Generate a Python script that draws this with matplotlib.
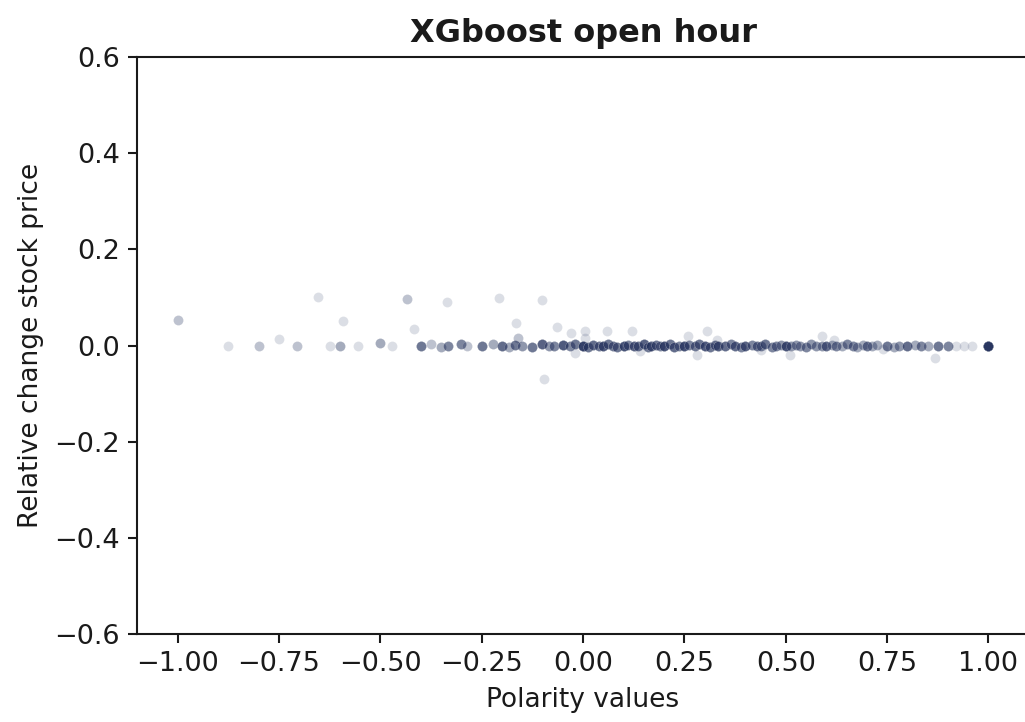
import numpy as np
import matplotlib
matplotlib.use("Agg")
import matplotlib.pyplot as plt
from matplotlib.ticker import FuncFormatter

# Sparse observations (polarity, relative change)
sparse_x = [-1.0, -1.0, -0.875, -0.80, -0.80, -0.75, -0.706, -0.706, -0.654, -0.593,
            -0.625, -0.60, -0.60, -0.60, -0.556, -0.50, -0.50, -0.50, -0.47, -0.435,
            -0.435, -0.418, -0.336, -0.206, -0.166, -0.16, -0.16, -0.10, -0.095, -0.063,
            0.004, -0.02, 0.12, 0.058, 0.307, 0.26, 0.28, 0.51, 0.59, 0.867,
            -0.03, 0.005, 0.14, 0.33, 0.44, 0.62, 0.74]
sparse_y = [0.052, 0.052, 0.0, 0.0, 0.0, 0.0125, 0.0, 0.0, 0.10, 0.05,
            0.0, 0.0, 0.0, 0.0, 0.0, 0.006, 0.006, 0.006, 0.0, 0.096,
            0.096, 0.035, 0.09, 0.098, 0.046, 0.016, 0.016, 0.094, -0.069, 0.038,
            0.031, -0.015, 0.031, 0.030, 0.031, 0.020, -0.020, -0.020, 0.020, -0.027,
            0.025, 0.015, -0.012, 0.012, -0.010, 0.012, -0.008]

# Dense band near zero change: polarity value and number of observations
band_x = [-0.40, -0.375, -0.35, -0.333, -0.30, -0.286, -0.25, -0.222, -0.20, -0.182,
          -0.167, -0.15, -0.125, -0.10, -0.083, -0.071, -0.05, -0.033, -0.02, 0.0,
          0.012, 0.025, 0.04, 0.05, 0.062, 0.075, 0.083, 0.10, 0.112, 0.125,
          0.136, 0.15, 0.16, 0.167, 0.18, 0.19, 0.20, 0.214, 0.225, 0.238,
          0.25, 0.262, 0.275, 0.286, 0.30, 0.312, 0.325, 0.333, 0.35, 0.364,
          0.375, 0.389, 0.40, 0.417, 0.429, 0.44, 0.45, 0.467, 0.475, 0.488,
          0.50, 0.512, 0.525, 0.536, 0.55, 0.562, 0.575, 0.589, 0.60, 0.614,
          0.625, 0.64, 0.65, 0.667, 0.675, 0.69, 0.70, 0.714, 0.725, 0.75,
          0.766, 0.78, 0.80, 0.82, 0.833, 0.85, 0.875, 0.90, 0.92, 0.94,
          0.96, 1.0]
band_n = [6, 2, 3, 5, 5, 2, 6, 3, 7, 3,
          6, 4, 6, 8, 4, 5, 9, 5, 6, 14,
          6, 7, 6, 9, 6, 6, 6, 10, 5, 8,
          6, 8, 6, 8, 6, 5, 10, 6, 7, 5,
          10, 5, 6, 6, 9, 6, 6, 8, 7, 5,
          7, 5, 8, 5, 6, 5, 6, 5, 5, 4,
          10, 4, 4, 4, 5, 4, 4, 4, 7, 3,
          5, 3, 5, 5, 3, 3, 6, 3, 3, 6,
          3, 4, 7, 3, 5, 3, 6, 5, 1, 1,
          1, 20]
band_y = [0.0, 0.003, -0.003, 0.0, 0.004, 0.0, -0.002, 0.003, 0.0, -0.004,
          0.002, 0.0, -0.003, 0.003, 0.0, -0.002, 0.002, 0.0, 0.003, 0.0,
          -0.003, 0.002, 0.0, -0.002, 0.003, 0.0, -0.004, 0.0, 0.002, -0.002,
          0.0, 0.003, -0.003, 0.0, 0.002, -0.002, 0.0, 0.003, -0.003, 0.0,
          0.0, 0.002, -0.002, 0.003, 0.0, -0.003, 0.002, 0.0, -0.002, 0.003,
          0.0, -0.003, 0.0, 0.002, -0.002, 0.0, 0.003, -0.003, 0.0, 0.002,
          0.0, -0.002, 0.002, 0.0, -0.003, 0.003, 0.0, -0.002, 0.0, 0.002,
          -0.002, 0.0, 0.003, 0.0, -0.003, 0.002, 0.0, -0.002, 0.002, 0.0,
          -0.003, 0.0, 0.0, 0.002, -0.002, 0.0, 0.0, 0.0, 0.0, 0.0,
          0.0, 0.0]

x = np.concatenate([sparse_x, np.repeat(band_x, band_n)])
y = np.concatenate([sparse_y, np.repeat(band_y, band_n)])

fig = plt.figure(figsize=(10.25, 7.22), dpi=100)
ax = fig.add_axes([137 / 1025, 1 - 634 / 722, 892 / 1025, 577 / 722])

ax.scatter(x, y, s=50, color="#25335e", alpha=0.16,
           edgecolors="white", linewidths=0.2)

ax.set_xlim(-1.1, 1.1)
ax.set_ylim(-0.6, 0.6)
ax.set_xticks([-1.0, -0.75, -0.5, -0.25, 0.0, 0.25, 0.5, 0.75, 1.0])
ax.set_yticks([-0.6, -0.4, -0.2, 0.0, 0.2, 0.4, 0.6])
ax.yaxis.set_major_formatter(FuncFormatter(
    lambda v, p: ("\u2212" if v < -1e-9 else "") + f"{abs(v):.1f}"))
ax.xaxis.set_major_formatter(FuncFormatter(
    lambda v, p: ("\u2212" if v < -1e-9 else "") + f"{abs(v):.2f}"))

text_color = "#1a1a1a"
for s in ax.spines.values():
    s.set_linewidth(1.5)
    s.set_color(text_color)
ax.tick_params(labelsize=19.5, length=6.5, width=1.5, pad=6,
               color=text_color, labelcolor=text_color)
ax.set_xlabel("Polarity values", fontsize=19, labelpad=7, color=text_color)
ax.set_ylabel("Relative change stock price", fontsize=19, labelpad=7,
              color=text_color)
ax.set_title("XGboost open hour", fontsize=23, fontweight="bold", pad=11,
             color=text_color)

fig.savefig("out.png", dpi=100)
